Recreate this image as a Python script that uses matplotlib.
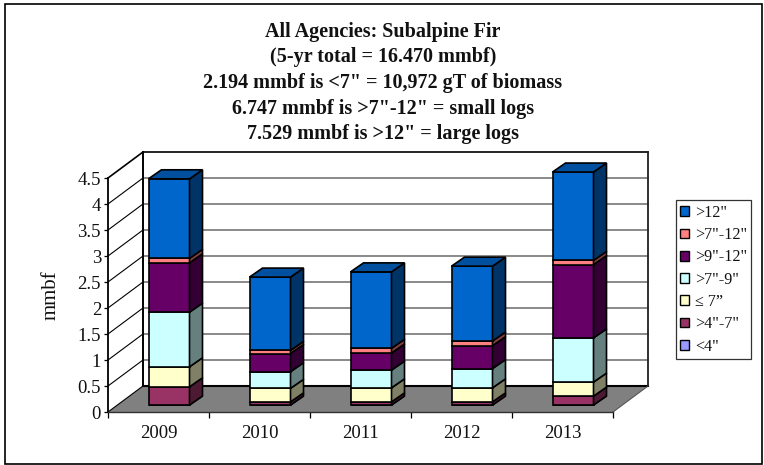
import matplotlib
matplotlib.use("Agg")
import matplotlib.pyplot as plt
from matplotlib.patches import Polygon, Rectangle, Patch
from matplotlib.colors import to_rgb
import numpy as np

plt.rcParams['font.family'] = ['Liberation Serif', 'DejaVu Serif']

years = ['2009', '2010', '2011', '2012', '2013']
lt4 = [0.0, 0.0, 0.0, 0.0, 0.0]
s4_7 = [0.35, 0.06, 0.06, 0.06, 0.17]
le7 = [0.385, 0.26, 0.27, 0.27, 0.27]
s7_9 = [1.05, 0.32, 0.34, 0.37, 0.85]
s9_12 = [0.95, 0.35, 0.33, 0.44, 1.41]
s7_12 = [0.085, 0.06, 0.09, 0.09, 0.08]
gt12 = [1.53, 1.41, 1.47, 1.44, 1.70]
series = [lt4, s4_7, le7, s7_9, s9_12, s7_12, gt12]
labels = ['<4"', '>4"-7"', '≤ 7”', '>7"-9"', '>9"-12"', '>7"-12"', '>12"']
colors = ['#9999FF', '#993366', '#FFFFCC', '#CCFFFF', '#660066', '#FF8080', '#0066CC']
yticks = [0, 0.5, 1, 1.5, 2, 2.5, 3, 3.5, 4, 4.5]
ytick_labels = ['0', '0.5', '1', '1.5', '2', '2.5', '3', '3.5', '4', '4.5']
title_lines = ['All Agencies: Subalpine Fir', '(5-yr total = 16.470 mmbf)',
               '2.194 mmbf is <7" = 10,972 gT of biomass',
               '6.747 mmbf is >7"-12" = small logs',
               '7.529 mmbf is >12" = large logs']

W, H = 764, 465
L, R, Y0, Y1 = 108, 613, 412, 178
fig = plt.figure(figsize=(W / 100, H / 100), dpi=100, facecolor='white')
ax = fig.add_axes([L / W, 1 - Y0 / H, (R - L) / W, (Y0 - Y1) / H])
ax.set_xlim(0, 5)
ax.set_ylim(0, 4.5)
ax.patch.set_alpha(0)

px_x = 5 / (R - L)
px_y = 4.5 / (Y0 - Y1)
DX, DY = 35 * px_x, 26 * px_y       # depth of the box
BX, BY = 10.5 * px_x, 7 * px_y      # where bars stand on the floor
SX, SY = 13 * px_x, 9 * px_y        # depth of a bar
BW = 41 * px_x
lw = 1.2

# floor
ax.add_patch(Polygon([(0, 0), (5, 0), (5 + DX, DY), (DX, DY)], fc='#808080', ec='none', zorder=1, clip_on=False))
ax.plot([DX, 5 + DX], [DY, DY], color='black', lw=1.5, zorder=1.5, clip_on=False)
ax.plot([0, DX], [0, DY], color='black', lw=0.8, zorder=1.5, clip_on=False)
ax.plot([5, 5 + DX], [0, DY], color='#555555', lw=0.8, zorder=1.5, clip_on=False)

# walls and grid
for t in yticks[1:-1]:
    ax.plot([DX, 5 + DX], [t + DY, t + DY], color='#808080', lw=1.3, zorder=1, clip_on=False)
    ax.plot([0, DX], [t, t + DY], color='black', lw=0.8, zorder=1, clip_on=False)
ax.plot([DX, 5 + DX], [4.5 + DY, 4.5 + DY], color='black', lw=1.2, zorder=1.5, clip_on=False)
ax.plot([0, DX], [4.5, 4.5 + DY], color='black', lw=1.2, zorder=1.5, clip_on=False)
ax.plot([DX, DX], [DY, 4.5 + DY], color='black', lw=1.4, zorder=1.5, clip_on=False)
ax.plot([5 + DX, 5 + DX], [DY, 4.5 + DY], color='#202020', lw=1.3, zorder=1.5, clip_on=False)

# stacked 3-D bars
x = np.arange(5) + 0.5 + BX
bottom = np.full(5, BY)
for vals, c in zip(series, colors):
    vals = np.array(vals)
    ax.bar(x, vals, BW, bottom=bottom, color=c, edgecolor='black', lw=lw, zorder=3, clip_on=False)
    side = tuple(v * 0.5 for v in to_rgb(c))
    for xi, b, v in zip(x, bottom, vals):
        xr = xi + BW / 2
        ax.add_patch(Polygon([(xr, b), (xr + SX, b + SY), (xr + SX, b + v + SY), (xr, b + v)],
                             fc=side, ec='black', lw=lw, zorder=3, clip_on=False))
    bottom = bottom + vals
top_col = tuple(v * 0.78 for v in to_rgb(colors[-1]))
for xi, b in zip(x, bottom):
    xl, xr = xi - BW / 2, xi + BW / 2
    ax.add_patch(Polygon([(xl, b), (xr, b), (xr + SX, b + SY), (xl + SX, b + SY)],
                         fc=top_col, ec='black', lw=lw, zorder=3, clip_on=False))

# axes
for s in ('top', 'right'):
    ax.spines[s].set_visible(False)
ax.spines['left'].set_linewidth(1.3)
ax.spines['bottom'].set_linewidth(1.0)
ax.spines['bottom'].set_color('#303030')
ax.set_yticks(yticks, ytick_labels, fontsize=13.5, color='#111111')
ax.tick_params(axis='y', length=3, width=0.9, pad=2)
ax.set_xticks(np.arange(6))
ax.set_xticklabels([])
ax.set_xticks(np.arange(5) + 0.5, minor=True)
ax.set_xticklabels(years, minor=True, fontsize=13.5, color='#111111')
ax.tick_params(axis='x', which='major', length=4, width=0.9)
ax.tick_params(axis='x', which='minor', length=0, pad=9)
fig.text(51 / W, 1 - 295 / H, 'mmbf', rotation=90, ha='center', va='center', fontsize=15, color='#111111')

# title
for line, yy in zip(title_lines, [32, 57, 83, 109, 134]):
    fig.text(383 / W, 1 - yy / H, line, ha='center', va='center', fontsize=14.5, fontweight='bold', color='#111111')

# outer frame
fig.add_artist(Rectangle((4.5 / W, 1 - 464 / H), 757.5 / W, 460 / H, transform=fig.transFigure,
                         fc='none', ec='black', lw=1.2))

# legend
handles = [Patch(fc=c, ec='black', lw=1.0, label=l) for c, l in zip(colors, labels)][::-1]
leg = fig.legend(handles=handles, loc='upper left', bbox_to_anchor=(676 / W, 1 - 200.5 / H),
                 bbox_transform=fig.transFigure, borderaxespad=0, fontsize=11.6, frameon=True, fancybox=False,
                 framealpha=1, edgecolor='#333333', handlelength=0.56, handleheight=0.56, handletextpad=0.35,
                 labelspacing=0.39, borderpad=0.27, labelcolor='#111111')
leg.get_frame().set_linewidth(0.9)

fig.savefig('out.png', dpi=100)
